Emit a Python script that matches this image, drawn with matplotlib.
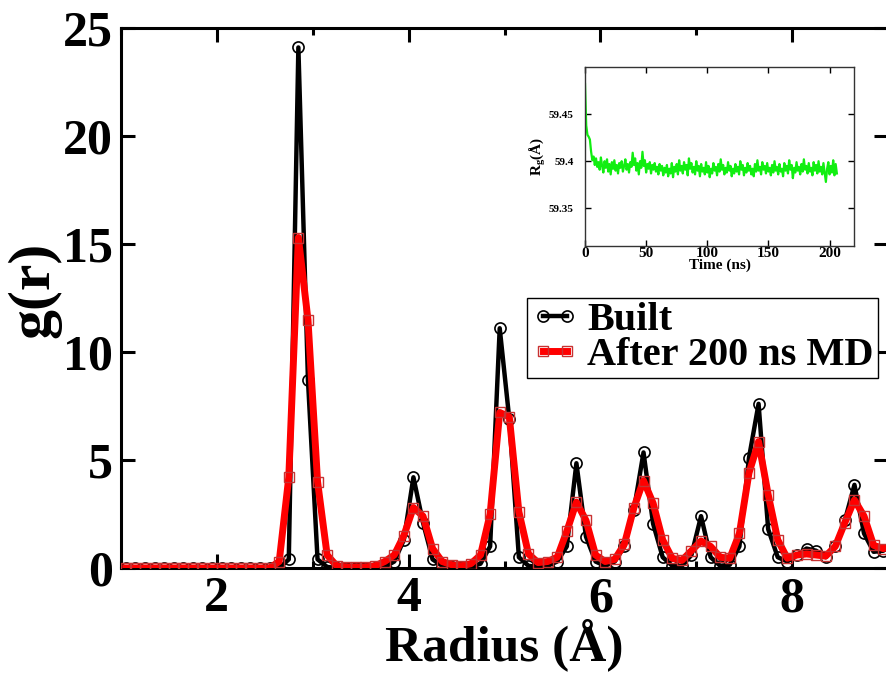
import numpy as np
import matplotlib
matplotlib.use('Agg')
import matplotlib.pyplot as plt

plt.rcParams['font.family'] = ['Liberation Serif', 'DejaVu Serif']
plt.rcParams['font.weight'] = 'bold'
plt.rcParams['axes.labelweight'] = 'bold'
plt.rcParams['mathtext.default'] = 'regular'

# radial grid (bin centres, 0.1 A)
radius = np.round(np.arange(1.05, 9.1, 0.1), 2)

g_built = [0, 0, 0, 0, 0, 0, 0, 0, 0, 0, 0, 0, 0, 0, 0, 0,
           0.0, 0.4, 24.1, 8.7, 0.4, 0.05, 0, 0, 0, 0, 0, 0.05, 0.3, 1.3,
           4.2, 2.1, 0.4, 0.1, 0.05, 0.05, 0.05, 0.2, 1.0, 11.1,
           6.9, 0.5, 0.1, 0.05, 0.1, 0.3, 1.0, 4.85, 1.45, 0.3,
           0.1, 0.3, 1.0, 2.7, 5.35, 2.05, 0.5, 0.1, 0.1, 0.6,
           2.4, 0.5, 0.1, 0.15, 1.0, 5.1, 7.6, 1.8, 0.5, 0.3,
           0.6, 0.9, 0.8, 0.5, 1.0, 2.2, 3.85, 1.6, 0.75, 0.8,
           1.1]

g_md = [0, 0, 0, 0, 0, 0, 0, 0, 0, 0, 0, 0, 0, 0, 0, 0,
        0.3, 4.2, 15.3, 11.5, 4.0, 0.6, 0.1, 0.05, 0.05, 0.05, 0.1, 0.3, 0.6, 1.5,
        2.8, 2.4, 0.9, 0.3, 0.15, 0.1, 0.2, 0.6, 2.5, 7.2,
        7.0, 2.6, 0.65, 0.25, 0.3, 0.5, 1.7, 3.05, 2.2, 0.6,
        0.3, 0.4, 1.1, 2.8, 4.05, 3.0, 1.3, 0.45, 0.35, 0.8,
        1.25, 1.0, 0.5, 0.45, 1.6, 4.4, 5.85, 3.4, 1.3, 0.45,
        0.6, 0.65, 0.6, 0.55, 1.0, 2.1, 3.15, 2.4, 1.05, 0.9,
        1.0]

# inset: radius of gyration vs time (1 ns steps)
time_ns = np.arange(207)
rg = [59.482, 59.438, 59.428, 59.426, 59.423, 59.410, 59.401,
      59.405, 59.396, 59.403, 59.394, 59.399, 59.391, 59.404, 59.395, 59.388, 59.400,
      59.393, 59.402, 59.389, 59.397, 59.386, 59.399, 59.392, 59.401, 59.390, 59.396,
      59.387, 59.398, 59.393, 59.400, 59.389, 59.395, 59.402, 59.391, 59.397, 59.388,
      59.399, 59.394, 59.409, 59.396, 59.403, 59.390, 59.398, 59.386, 59.400, 59.393,
      59.410, 59.395, 59.401, 59.388, 59.397, 59.392, 59.399, 59.387, 59.396, 59.391,
      59.398, 59.389, 59.394, 59.386, 59.397, 59.390, 59.395, 59.385, 59.393, 59.388,
      59.396, 59.384, 59.392, 59.387, 59.398, 59.383, 59.394, 59.389, 59.397, 59.386,
      59.401, 59.390, 59.395, 59.387, 59.399, 59.391, 59.396, 59.385, 59.403, 59.392,
      59.398, 59.388, 59.394, 59.386, 59.400, 59.390, 59.395, 59.384, 59.397, 59.389,
      59.393, 59.386, 59.399, 59.388, 59.395, 59.383, 59.392, 59.387, 59.398, 59.390,
      59.394, 59.385, 59.397, 59.389, 59.402, 59.391, 59.396, 59.386, 59.393, 59.388,
      59.399, 59.390, 59.395, 59.384, 59.392, 59.387, 59.397, 59.389, 59.394, 59.386,
      59.400, 59.391, 59.396, 59.385, 59.393, 59.388, 59.398, 59.390, 59.395, 59.386,
      59.392, 59.384, 59.397, 59.389, 59.401, 59.390, 59.394, 59.386, 59.399, 59.391,
      59.395, 59.387, 59.398, 59.389, 59.393, 59.385, 59.396, 59.388, 59.400, 59.390,
      59.394, 59.386, 59.397, 59.389, 59.392, 59.384, 59.398, 59.390, 59.395, 59.387,
      59.401, 59.391, 59.396, 59.382, 59.393, 59.388, 59.399, 59.390, 59.394, 59.386,
      59.397, 59.389, 59.402, 59.391, 59.395, 59.387, 59.398, 59.389, 59.393, 59.385,
      59.399, 59.390, 59.396, 59.387, 59.400, 59.389, 59.394, 59.386, 59.398, 59.388,
      59.378, 59.392, 59.399, 59.386, 59.395, 59.388, 59.401, 59.385, 59.397, 59.387]

fig = plt.figure(figsize=(8.86, 6.75), dpi=100)
ax = fig.add_axes([121 / 886, 107 / 675, 767 / 886, 540 / 675])

ax.plot(radius, g_built, color='black', lw=3.2, marker='o', ms=8,
        mfc='none', mec='black', mew=1.2, label='Built', zorder=3)
ax.plot(radius, g_md, color='red', lw=5, marker='s', ms=7.5,
        mfc='none', mec='#c83232', mew=1.0, label='After 200 ns MD', zorder=4)

ax.set_xlim(1, 9)
ax.set_ylim(0, 25)
ax.set_xticks([2, 4, 6, 8])
ax.set_xticks([1, 3, 5, 7, 9], minor=True)
ax.set_yticks([0, 5, 10, 15, 20, 25])
ax.tick_params(which='both', direction='in', top=True, right=True, width=2.2)
ax.tick_params(which='major', length=10, labelsize=36, pad=6)
ax.tick_params(which='minor', length=5)
for s in ax.spines.values():
    s.set_linewidth(2.2)

ax.set_xlabel('Radius (Å)', fontsize=37, labelpad=-3)
fig.text(34 / 886, 1 - 290 / 675, 'g(r)', fontsize=43, rotation=90,
         ha='center', va='center', fontweight='bold')

leg = ax.legend(loc='upper left', bbox_to_anchor=(527 / 886, 1 - 298 / 675),
                bbox_transform=fig.transFigure, borderaxespad=0,
                fontsize=29, numpoints=2, handlelength=1.2,
                handletextpad=0.2, labelspacing=-0.05, borderpad=0.1,
                fancybox=False, edgecolor='black', framealpha=1)
leg.get_frame().set_linewidth(1.0)

# inset
ins = fig.add_axes([585 / 886, 1 - 246 / 675, 269 / 886, 179 / 675])
ins.plot(time_ns, rg, color='#11ee11', lw=1.6)
ins.set_xlim(0, 220)
ins.set_ylim(59.31, 59.50)
ins.set_xticks([0, 50, 100, 150, 200])
ins.set_yticks([59.35, 59.40, 59.45])
ins.set_yticklabels(['59.35', '59.4', '59.45'])
ins.tick_params(direction='in', top=True, right=True, length=4, width=1)
ins.tick_params(axis='x', labelsize=11, pad=1)
ins.tick_params(axis='y', labelsize=8, pad=8)
for s in ins.spines.values():
    s.set_linewidth(1.0)
    s.set_color('#333333')
ins.set_xlabel('Time (ns)', fontsize=11, labelpad=-1)
ins.set_ylabel('R$_\\mathregular{g}$(Å)', fontsize=11, labelpad=1)

fig.savefig('out.png', dpi=100)
